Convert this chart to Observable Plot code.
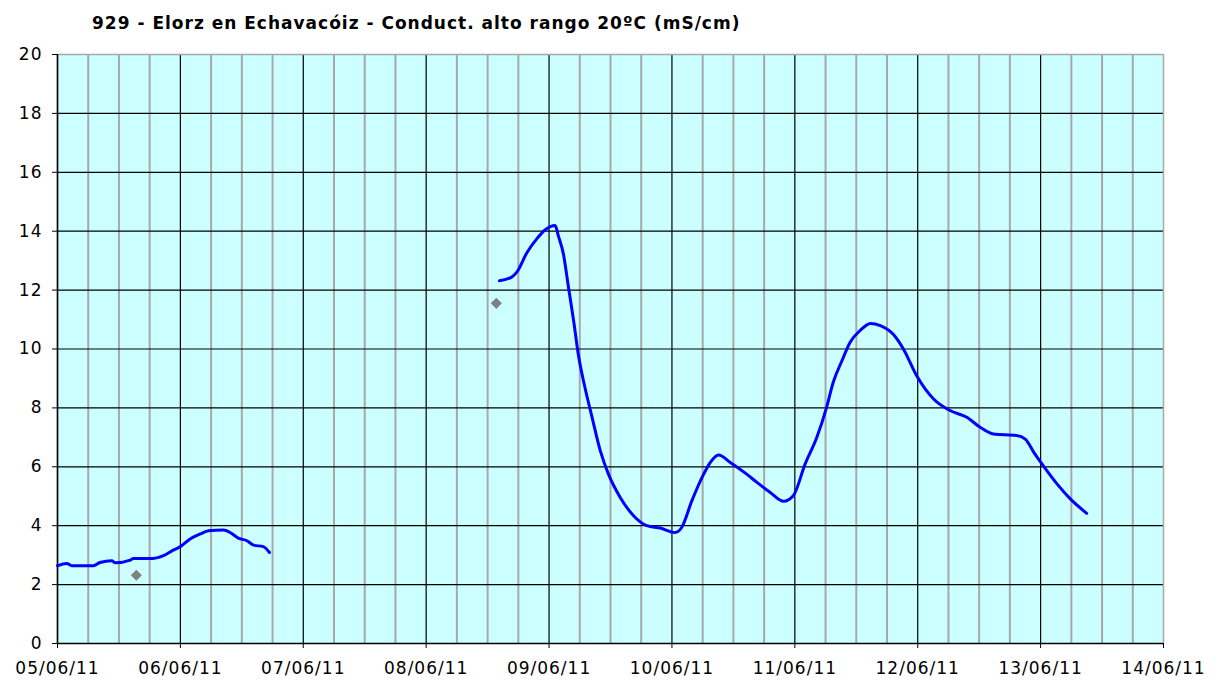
<!DOCTYPE html>
<html>
<head>
<meta charset="utf-8">
<script src="https://cdn.jsdelivr.net/npm/d3@7"></script>
<script src="https://cdn.jsdelivr.net/npm/@observablehq/plot@0.6"></script>
<style>
  html, body { margin: 0; padding: 0; background: #fff; }
  #title { height: 25px; padding-top: 15px; padding-left: 92px; font-family: "DejaVu Sans", Verdana, sans-serif; font-weight: bold; font-size: 17px; letter-spacing: 1px; line-height: 1; color: #000; white-space: nowrap; }
  #chart svg { display: block; }
</style>
</head>
<body>
<div id="title">929 - Elorz en Echavacóiz - Conduct. alto rango 20ºC (mS/cm)</div>
<div id="chart"></div>
<script>
// ---- data (hours since 05/06/11 00:00, values in mS/cm) ----
const seg1Hours  = [0, 1.8, 2.8, 7.0, 8.3, 10.6, 11.3, 14.2, 14.8, 18.7, 20.7, 22.6, 24.0, 25.9, 27.9, 29.5, 32.4, 33.7, 35.3, 37.0, 38.3, 40.2, 41.4];
const seg1Values = [2.64, 2.72, 2.64, 2.64, 2.75, 2.81, 2.74, 2.83, 2.89, 2.89, 2.98, 3.17, 3.29, 3.55, 3.72, 3.83, 3.85, 3.77, 3.58, 3.49, 3.34, 3.29, 3.09];

const seg2Hours  = [86.3, 88.7, 89.7, 91.7, 93.6, 95.2, 97.2, 97.8, 98.8, 99.8, 100.8, 101.7, 103.0, 104.4, 106.0, 107.6, 109.9, 112.5, 115.1, 117.7, 120.6, 121.9, 123.9, 126.2, 127.5, 129.1, 131.4, 134.6, 136.6, 139.2, 141.8, 143.7, 146.0, 148.3, 150.2, 151.5, 153.2, 154.8, 156.7, 158.8, 160.7, 163.3, 165.2, 167.8, 171.1, 174.3, 177.6, 180.2, 182.8, 187.3, 189.0, 190.9, 192.5, 195.2, 197.8, 201.0];
const seg2Values = [12.32, 12.44, 12.61, 13.28, 13.74, 14.04, 14.19, 13.85, 13.23, 12.09, 10.96, 9.83, 8.70, 7.68, 6.55, 5.75, 4.96, 4.34, 4.00, 3.92, 3.77, 3.94, 4.85, 5.75, 6.15, 6.40, 6.15, 5.75, 5.47, 5.13, 4.83, 5.02, 6.09, 7.00, 8.02, 8.87, 9.60, 10.23, 10.62, 10.87, 10.79, 10.48, 10.00, 9.09, 8.30, 7.91, 7.68, 7.34, 7.11, 7.06, 6.94, 6.43, 6.04, 5.42, 4.91, 4.42];

const pointHours  = [15.4, 85.7];
const pointValues = [2.32, 11.55];

const dayLabels = ["05/06/11","06/06/11","07/06/11","08/06/11","09/06/11","10/06/11","11/06/11","12/06/11","13/06/11","14/06/11"];
const yTicks = [0, 2, 4, 6, 8, 10, 12, 14, 16, 18, 20];

// ---- build tables ----
const parseDay = d3.utcParse("%d/%m/%y");
const days = dayLabels.map(parseDay);
const t0 = days[0];
const at = h => new Date(+t0 + h * 3600e3);
const lineData = [
  ...seg1Hours.map((h, i) => ({t: at(h), v: seg1Values[i], s: 1})),
  ...seg2Hours.map((h, i) => ({t: at(h), v: seg2Values[i], s: 2}))
];
const pts = pointHours.map((h, i) => ({t: at(h), v: pointValues[i]}));
const sixHours = d3.utcHour.every(6).range(days[0], days[days.length - 1]).filter(d => d.getUTCHours() !== 0);

const chart = Plot.plot({
  width: 1221,
  height: 642,
  marginTop: 14,
  marginBottom: 39,
  marginLeft: 57,
  marginRight: 58,
  style: {fontFamily: "DejaVu Sans, Verdana, sans-serif", fontSize: "17px", color: "#000", background: "#fff"},
  x: {type: "utc", domain: [days[0], days[days.length - 1]]},
  y: {domain: [0, 20]},
  marks: [
    Plot.frame({fill: "#ccffff", stroke: null}),
    Plot.ruleX(sixHours, {stroke: "#a8a8a8", strokeWidth: 2}),
    Plot.ruleX(days.slice(0, -1), {stroke: "#000", strokeWidth: 1.2}),
    Plot.ruleY(yTicks.slice(0, -1), {stroke: "#000", strokeWidth: 1.2}),
    Plot.ruleY([20], {stroke: "#a8a8a8", strokeWidth: 1.5}),
    Plot.ruleX([days[days.length - 1]], {stroke: "#a8a8a8", strokeWidth: 1.5}),
    Plot.ruleX([days[0]], {stroke: "#000", strokeWidth: 1.5}),
    Plot.ruleY([0], {stroke: "#000", strokeWidth: 1.5}),
    Plot.line(lineData, {x: "t", y: "v", z: "s", stroke: "#0000ff", strokeWidth: 3, curve: "monotone-x"}),
    Plot.dot(pts, {x: "t", y: "v", symbol: "diamond2", fill: "#808080", stroke: null, r: 5}),
    Plot.axisX({ticks: days, tickFormat: d => d3.utcFormat("%d/%m/%y")(d), tickSize: 5, tickPadding: 13, label: null, stroke: "#000"}),
    Plot.axisY({ticks: yTicks, tickSize: 5, tickPadding: 10, label: null, stroke: "#000"})
  ]
});
chart.querySelectorAll("text").forEach(t => t.style.letterSpacing = "1px");
document.getElementById("chart").appendChild(chart);
</script>
</body>
</html>
